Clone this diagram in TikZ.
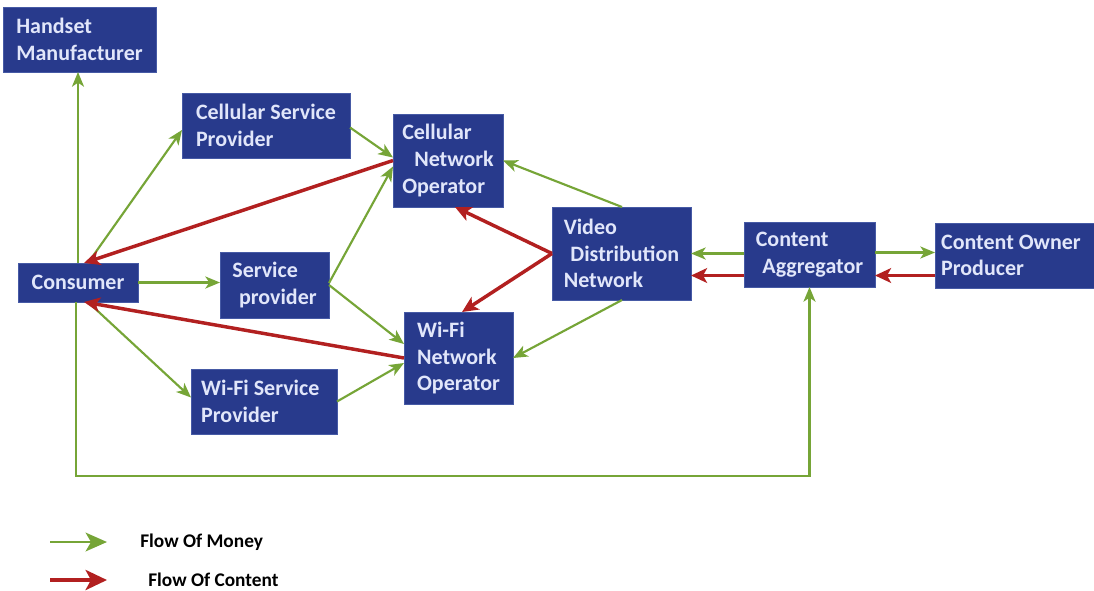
\documentclass[tikz,border=0pt]{standalone}
\usepackage{fontspec}
\setmainfont{Carlito}
\usetikzlibrary{arrows.meta,calc,fit}
\definecolor{boxblue}{RGB}{40,58,140}
\definecolor{boxedge}{RGB}{70,90,165}
\definecolor{boxtext}{RGB}{225,230,250}
\definecolor{money}{RGB}{118,165,55}
\definecolor{content}{RGB}{178,32,32}
\begin{document}
\begin{tikzpicture}[x=0.75pt,y=-0.75pt,
  bx/.style={draw=boxedge,line width=0.6pt,fill=boxblue,inner sep=0pt,outer sep=0pt},
  bxt/.style={inner sep=0pt,text=boxtext,align=left,
    font=\bfseries\fontsize{16.5}{20}\selectfont},
  money/.style={draw=money,line width=1.6pt,-{Stealth[length=11pt,width=9pt,inset=3pt]}},
  content/.style={draw=content,line width=2.6pt,-{Stealth[length=12pt,width=11pt,inset=3pt]}},
  legtext/.style={font=\bfseries\fontsize{14.5}{16}\selectfont,anchor=west,inner sep=0pt}]
\useasboundingbox (0,0) rectangle (1094,590);
\fill[white] (0,0) rectangle (1094,590);
% boxes
\node[bx,fit={(3,7) (156,72)}] (hm) {};
\node[bx,fit={(182,93) (350,158)}] (csp) {};
\node[bx,fit={(393,114) (503,207)}] (cno) {};
\node[bx,fit={(18,263) (138,302)}] (cons) {};
\node[bx,fit={(220,252) (329,318)}] (sp) {};
\node[bx,fit={(552,207) (691,300)}] (vdn) {};
\node[bx,fit={(744,222) (875,287)}] (ca) {};
\node[bx,fit={(935,223) (1094,288)}] (cop) {};
\node[bx,fit={(404,312) (513,404)}] (wno) {};
\node[bx,fit={(191,369) (337,434)}] (wsp) {};
% box texts
\node[bxt] (hm-t) at (hm.center) {Handset\\Manufacturer};
\node[bxt] (csp-t) at (csp.center) {Cellular Service\\Provider};
\node[bxt] (cno-t) at (cno.center) {Cellular\\\hspace*{9pt}Network\\Operator};
\node[bxt] (cons-t) at (cons.center) {Consumer};
\node[bxt] (sp-t) at (sp.center) {Service\\\hspace*{5pt}provider};
\node[bxt] (vdn-t) at (vdn.center) {Video\\\hspace*{5pt}Distribution\\Network};
\node[bxt] (ca-t) at (ca.center) {Content\\\hspace*{5pt}Aggregator};
\node[bxt] (cop-t) at (cop.center) {Content Owner\\Producer\hspace*{48pt}};
\node[bxt] (wno-t) at (wno.center) {Wi-Fi\\Network\\Operator};
\node[bxt] (wsp-t) at (wsp.center) {Wi-Fi Service\\Provider\hspace*{36pt}};
% money flows
\draw[money] (cons.north) -- (cons.north |- hm.south);
\draw[money] ($(cons.north west)+(70,0)$) -- ($(csp.south west)+(0,-28)$);
\draw[money] (cons.east) -- (sp.west |- cons.east);
\draw[money] ($(cons.south west)+(70,0)$) -- ($(wsp.west)+(0,-4)$);
\draw[money] ($(cons.south west)+(58,0)$) -- ++(0,174) -| (ca.south);
\draw[money] ($(csp.east)+(0,2)$) -- ($(cno.west)+(0,-3)$);
\draw[money] ($(sp.east)+(0,-2)$) -- ($(cno.west)+(0,6)$);
\draw[money] ($(sp.east)+(0,0)$) -- ($(wno.west)+(0,-14)$);
\draw[money] (wsp.east) -- ($(wno.west)+(0,5)$);
\draw[money] ($(vdn.north west)+(70,0)$) -- (cno.east);
\draw[money] ($(vdn.south west)+(70,0)$) -- (wno.east);
\draw[money] ($(ca.west)+(0,-1)$) -- (vdn.east |- {$(ca.west)+(0,-1)$});
\draw[money] ($(ca.east)+(0,-2)$) -- (cop.west |- {$(ca.east)+(0,-2)$});
% content flows
\draw[content] (cno.west) -- ($(cons.north west)+(66,0)$);
\draw[content] (wno.west) -- ($(cons.south west)+(66,0)$);
\draw[content] (vdn.west) -- ($(cno.south west)+(62,0)$);
\draw[content] (vdn.west) -- ($(wno.north west)+(58,0)$);
\draw[content] ($(ca.west)+(0,21)$) -- (vdn.east |- {$(ca.west)+(0,21)$});
\draw[content] ($(cop.west)+(0,20)$) -- (ca.east |- {$(cop.west)+(0,20)$});
% legend
\coordinate (lm1) at (50,542);
\coordinate (lm2) at (107,542);
\coordinate (lc1) at (50,580);
\coordinate (lc2) at (107,580);
\draw[draw=money,line width=2pt,-{Stealth[length=16pt,width=14pt,inset=4pt]}] (lm1) -- (lm2);
\draw[draw=content,line width=3pt,-{Stealth[length=16pt,width=15pt,inset=4pt]}] (lc1) -- (lc2);
\node[legtext] (lmt) at (140,542) {Flow Of Money};
\node[legtext] (lct) at (148,580) {Flow Of Content};
\end{tikzpicture}
\end{document}
